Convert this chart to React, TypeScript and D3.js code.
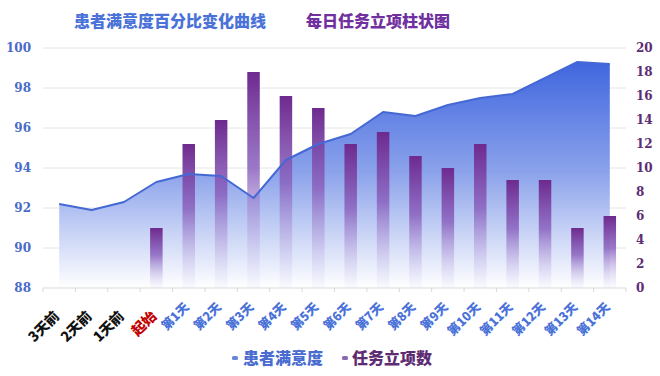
import React from "react";
import * as d3 from "d3";

const categories = ["3天前", "2天前", "1天前", "起始", "第1天", "第2天", "第3天", "第4天", "第5天", "第6天", "第7天", "第8天", "第9天", "第10天", "第11天", "第12天", "第13天", "第14天"];
const satisfaction = [92.2, 91.9, 92.3, 93.3, 93.7, 93.6, 92.5, 94.4, 95.2, 95.7, 96.8, 96.6, 97.15, 97.5, 97.7, 98.5, 99.3, 99.2];
const tasks: (number | null)[] = [null, null, null, 5, 12, 14, 18, 16, 15, 12, 13, 11, 10, 12, 9, 9, 5, 6];
const leftTicks = [88, 90, 92, 94, 96, 98, 100];
const rightTicks = [0, 2, 4, 6, 8, 10, 12, 14, 16, 18, 20];
const labelColors = ["#111", "#111", "#111", "#C00000"];

const W = 660, H = 376;
const M = { left: 43, right: 34, top: 48, bottom: 88 };
const CJK = "'Noto Sans CJK SC', sans-serif";
const NUM = "'DejaVu Serif', serif";

export default function App() {
  const x = d3.scaleBand<string>().domain(categories).range([M.left, W - M.right]);
  const yL = d3.scaleLinear().domain([88, 100]).range([H - M.bottom, M.top]);
  const yR = d3.scaleLinear().domain([0, 20]).range([H - M.bottom, M.top]);
  const cx = (c: string) => (x(c) as number) + x.bandwidth() / 2;
  const pts = categories.map((c, i) => [cx(c), yL(satisfaction[i])] as [number, number]);
  const line = d3.line()(pts) as string;
  const area = d3.area<[number, number]>().x((d) => d[0]).y0(yL(88)).y1((d) => d[1])(pts) as string;
  const barW = 12.5;
  const base = H - M.bottom;

  return (
    <svg width={W} height={H} style={{ position: "absolute", left: 0, top: 0, background: "#fff" }}>
      <defs>
        <linearGradient id="areaG" gradientUnits="userSpaceOnUse" x1="0" y1={yL(99.5)} x2="0" y2={base}>
          <stop offset="0" stopColor="#3D64DE" />
          <stop offset="0.5" stopColor="#8CA3EB" />
          <stop offset="1" stopColor="#ffffff" />
        </linearGradient>
        <linearGradient id="barG" x1="0" y1="0" x2="0" y2="1">
          <stop offset="0" stopColor="#6E2A8E" />
          <stop offset="0.45" stopColor="#8A62BE" stopOpacity="0.85" />
          <stop offset="1" stopColor="#D8D6F6" stopOpacity="0.12" />
        </linearGradient>
      </defs>
      <text x={170} y={27} textAnchor="middle" fontFamily={CJK} fontWeight={900} fontSize={16} fill="#4A72D8">患者满意度百分比变化曲线</text>
      <text x={378} y={27} textAnchor="middle" fontFamily={CJK} fontWeight={900} fontSize={16} fill="#7030A0">每日任务立项柱状图</text>
      {leftTicks.map((t) => (
        <g key={t}>
          {t !== 88 && <line x1={M.left} x2={W - M.right} y1={yL(t)} y2={yL(t)} stroke="#e6e6e6" />}
          <text x={31} y={yL(t)} dy="0.36em" textAnchor="end" fontFamily={NUM} fontWeight={700} fontSize={12} fill="#4A6BC8">{t}</text>
        </g>
      ))}
      {rightTicks.map((t) => (
        <text key={t} x={636} y={yR(t)} dy="0.36em" textAnchor="start" fontFamily={NUM} fontWeight={700} fontSize={12} fill="#5E2C73">{t}</text>
      ))}
      <path d={area} fill="url(#areaG)" />
      {categories.map((c, i) =>
        tasks[i] ? (
          <rect key={c} x={cx(c) - barW / 2} y={yR(tasks[i] as number)} width={barW} height={base - yR(tasks[i] as number)} fill="url(#barG)" />
        ) : null
      )}
      <path d={line} fill="none" stroke="#4468D4" strokeWidth={2} strokeLinejoin="round" />
      <line x1={M.left} x2={W - M.right} y1={base} y2={base} stroke="#d9d9d9" />
      {categories.map((c) => (
        <line key={c} x1={x(c) as number} x2={x(c) as number} y1={base} y2={base + 4} stroke="#d9d9d9" />
      ))}
      <line x1={W - M.right} x2={W - M.right} y1={base} y2={base + 4} stroke="#d9d9d9" />
      {categories.map((c, i) => {
        const big = i < 4;
        const ty = big ? 317 : 308;
        return (
          <text key={c} transform={`translate(${cx(c) + 1},${ty}) rotate(-45)`} textAnchor="end"
            fontFamily={CJK} fontWeight={900} fontSize={big ? 14 : 12.5} fill={labelColors[i] || "#4A72D8"}>{c}</text>
        );
      })}
      <rect x={232} y={356} width={6} height={4} rx={1.5} fill="#6A86D8" />
      <text x={243} y={358} dy="0.35em" fontFamily={CJK} fontWeight={900} fontSize={16} fill="#4A6BD0">患者满意度</text>
      <rect x={342} y={356} width={6} height={4} rx={1.5} fill="#8A6AAE" />
      <text x={352} y={358} dy="0.35em" fontFamily={CJK} fontWeight={900} fontSize={16} fill="#5E2C73">任务立项数</text>
    </svg>
  );
}
